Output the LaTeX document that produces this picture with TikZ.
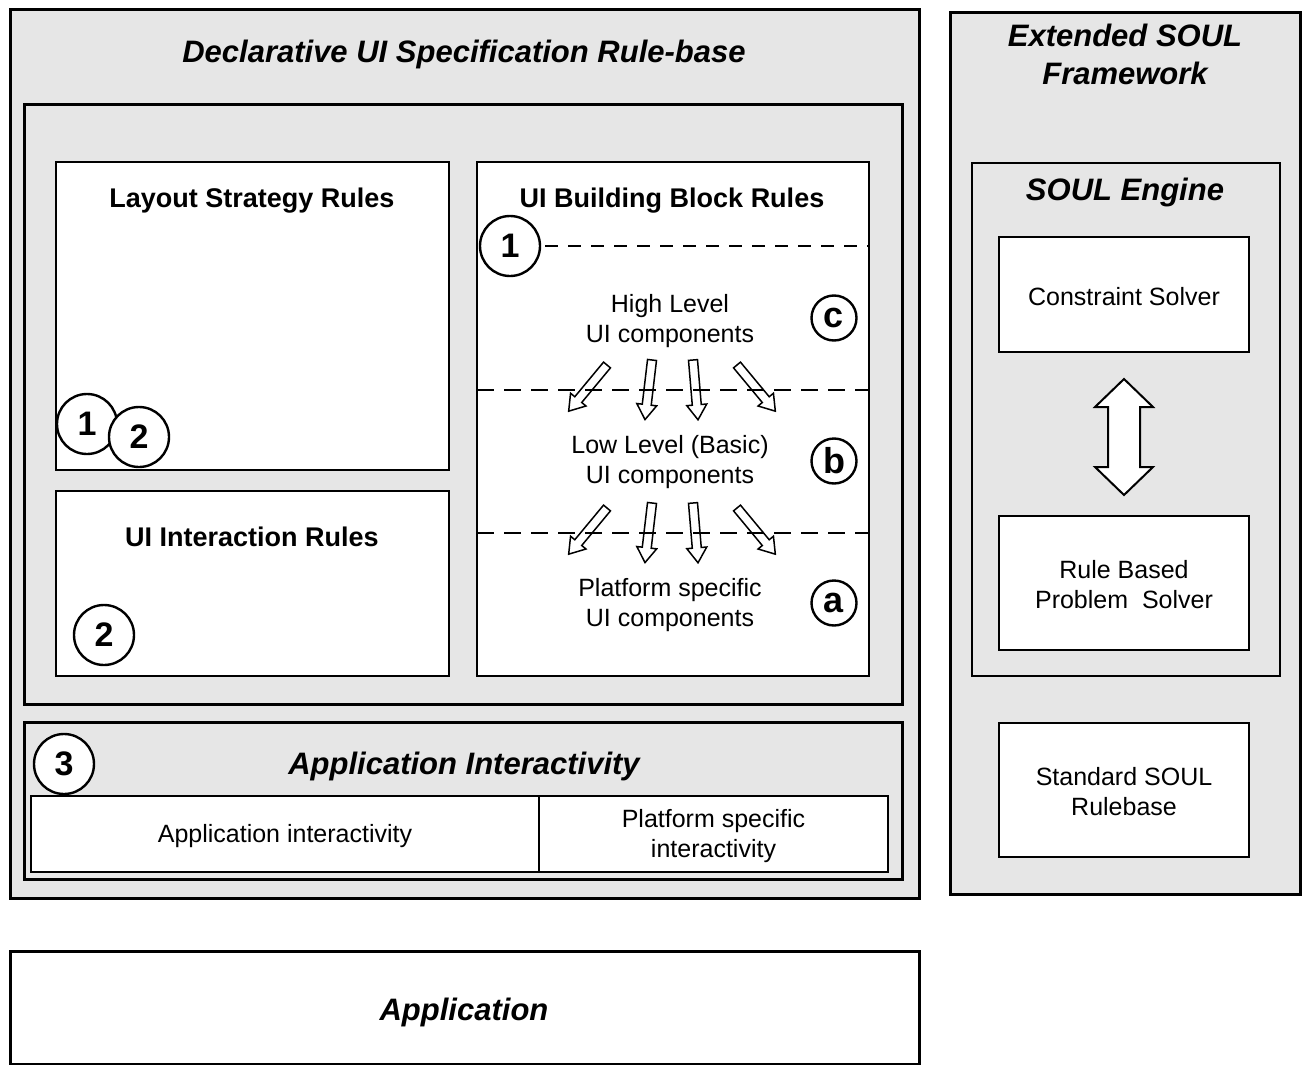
\documentclass[tikz,border=0pt]{standalone}
\usepackage{fontspec}
\setmainfont{Liberation Sans}
\usetikzlibrary{fit}
\definecolor{panel}{HTML}{E6E6E6}

\tikzset{
  container/.style={draw=black, line width=3pt, fill=panel, inner sep=0pt},
  whitebox/.style={draw=black, line width=2pt, fill=white, inner sep=0pt},
  cellbox/.style={draw=black, line width=1.5pt, fill=white, inner sep=0pt},
  ttl/.style={font=\bfseries\itshape\fontsize{31}{38}\selectfont, align=center, inner sep=0pt},
  hdr/.style={font=\bfseries\fontsize{27}{32}\selectfont, inner sep=0pt},
  txt/.style={font=\fontsize{25}{30}\selectfont, align=center, inner sep=0pt},
  numcirc/.style={circle, draw=black, line width=2.4pt, fill=white, minimum size=60pt,
                  inner sep=0pt, font=\bfseries\fontsize{34}{34}\selectfont},
  letcirc/.style={circle, draw=black, line width=2.4pt, fill=white, minimum size=45pt,
                  inner sep=0pt, font=\bfseries\fontsize{36}{36}\selectfont},
  levelline/.style={line width=2.6pt, dash pattern=on 17pt off 10pt},
  topline/.style={line width=2.6pt, dash pattern=on 13pt off 10pt},
  hollow/.style={draw=black, line width=1.5pt, line join=miter},
  bigarrow/.style={draw=black, line width=2pt, fill=white, line join=miter}
}

% outlined block arrow: tail at (#1,#2), pointing along angle #3
\newcommand\hollowarrow[3]{%
  \begin{scope}[shift={(#1,#2)}, rotate=#3]
    \draw[hollow] (0,-4.5) -- (45,-4.5) -- (45,-10) -- (60,0) -- (45,10)
                  -- (45,4.5) -- (0,4.5) -- cycle;
  \end{scope}}

\begin{document}
\begin{tikzpicture}[x=1pt, y=-1pt]
\useasboundingbox (0,0) rectangle (1306,1065);

% ---------- declarative rule-base ----------
\node[container, fit={(10,10) (919,898)}] (decl) {};
\node[ttl] (declT) at (464,54) {Declarative UI Specification Rule-base};
\node[container, fit={(24,104) (902,704)}] (rules) {};

\node[whitebox, fit={(56,162) (449,470)}] (layout) {};
\node[hdr] (layoutT) at (252,201) {Layout Strategy Rules};
\node[numcirc] (lay1) at (87,424) {1};
\node[numcirc] (lay2) at (139,437) {2};

\node[whitebox, fit={(56,491) (449,676)}] (inter) {};
\node[hdr] (interT) at (252,537) {UI Interaction Rules};
\node[numcirc] (int2) at (104,635) {2};

\node[whitebox, fit={(477,162) (869,676)}] (bb) {};
\node[hdr] (bbT) at (672,201) {UI Building Block Rules};

% level separators
\coordinate (sepC) at (477,390);
\coordinate (sepB) at (477,533);
\draw[levelline] (sepC) -- (bb.east |- sepC);
\draw[levelline] (sepB) -- (bb.east |- sepB);

\node[txt] (high) at (670,321) {High Level\\UI components};
\node[txt] (low) at (670,462) {Low Level (Basic)\\UI components};
\node[txt] (plat) at (670,605) {Platform specific\\UI components};

\node[letcirc] (lc) at (834,318) {c};
\node[letcirc] (lb) at (834,461) {b};
\node[letcirc] (la) at (834,603) {a};

% refinement arrows between levels
\foreach \dy in {0,143} {
  \hollowarrow{607}{365+\dy}{-129.7}
  \hollowarrow{652}{360+\dy}{-96.7}
  \hollowarrow{693}{360+\dy}{-85.2}
  \hollowarrow{737}{365+\dy}{-50.3}
}

\node[numcirc] (bb1) at (510,246) {1};
\draw[topline] ([xshift=4pt]bb1.east) -- (bb.east |- bb1.east);

% ---------- application interactivity ----------
\node[container, fit={(24,722) (902,879)}] (appint) {};
\node[ttl] (appintT) at (464,766) {Application Interactivity};
\node[cellbox, fit={(31,796) (539,872)}] (cellA) {};
\node[cellbox, fit={(539,796) (888,872)}] (cellB) {};
\node[txt] at ([yshift=-2pt]cellA.center) {Application interactivity};
\node[txt] at ([yshift=-2pt]cellB.center) {Platform specific\\interactivity};
\node[numcirc] (ai3) at (64,764) {3};

% ---------- extended SOUL framework ----------
\node[container, fit={(950,13) (1300,894)}] (ext) {};
\node[ttl] (extT) at (1125,54) {Extended SOUL\\Framework};
\node[container, line width=2.6pt, fit={(972,163) (1280,676)}] (engine) {};
\node[ttl] (engT) at (1125,192) {SOUL Engine};
\node[whitebox, fit={(999,237) (1249,352)}] (cs) {};
\node[txt] at ([yshift=-2pt]cs.center) {Constraint Solver};
\node[whitebox, fit={(999,516) (1249,650)}] (rb) {};
\node[txt] at ([yshift=-2pt]rb.center) {Rule Based\\Problem\ \ Solver};
\node[whitebox, fit={(999,723) (1249,857)}] (std) {};
\node[txt] at ([yshift=-2pt]std.center) {Standard SOUL\\Rulebase};

% two-way exchange between the solvers
\draw[bigarrow] (1124,379) -- (1153,407) -- (1140,407) -- (1140,467) -- (1153,467)
  -- (1124,495) -- (1095,467) -- (1108,467) -- (1108,407) -- (1095,407) -- cycle;

% ---------- application ----------
\node[whitebox, line width=3pt, fit={(10,951) (919,1064)}] (app) {};
\node[ttl] (appT) at (464,1012) {Application};
\end{tikzpicture}
\end{document}
